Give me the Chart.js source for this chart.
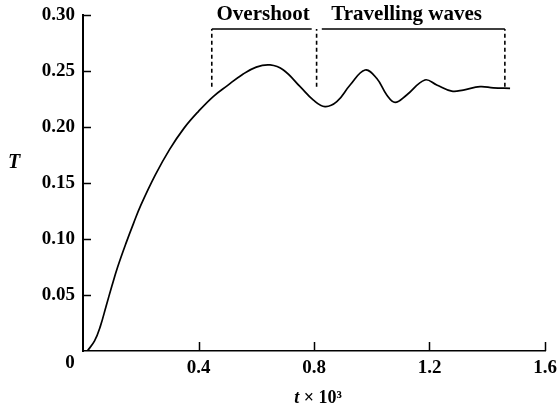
<!DOCTYPE html>
<html>
<head>
<meta charset="utf-8">
<script src="https://cdn.jsdelivr.net/npm/chart.js@4"></script>
<style>
  html, body { margin: 0; padding: 0; background: #fff; }
</style>
</head>
<body>
<canvas id="tempChart" width="557" height="415"></canvas>
<script>
// Temperature response T against time (t x 10^3)
const timeValues = [0.015, 0.04, 0.06, 0.08, 0.10, 0.12, 0.15, 0.175, 0.20, 0.25, 0.30, 0.35,
    0.40, 0.45, 0.50, 0.55, 0.60, 0.648, 0.694, 0.752, 0.798, 0.838, 0.879, 0.925,
    0.977, 1.017, 1.052, 1.081, 1.121, 1.184, 1.225, 1.277, 1.317, 1.375, 1.421, 1.479];
const tempValues = [0.000, 0.009, 0.022, 0.040, 0.058, 0.075, 0.097, 0.114, 0.130, 0.157, 0.180, 0.199,
    0.214, 0.227, 0.237, 0.2465, 0.2535, 0.2554, 0.2509, 0.236, 0.224, 0.2182, 0.2226, 0.2375,
    0.2509, 0.2435, 0.2286, 0.222, 0.2286, 0.242, 0.2375, 0.232, 0.233, 0.236, 0.235, 0.2345];

// Brackets marking the two regimes
const bracketNames = ['Overshoot', 'Travelling waves'];
const bracketStart = [0.446, 0.827];
const bracketEnd = [0.792, 1.461];
const bracketLevel = 0.2875;
const labelCentres = [0.624, 1.121];
const labelLevel = 0.2955;
const dividerTimes = [0.446, 0.809, 1.461];
const dividerBottom = 0.236;

const xTicks = [0, 0.4, 0.8, 1.2, 1.6];
const yTicks = [0, 0.05, 0.10, 0.15, 0.20, 0.25, 0.30];

const serif = "'Liberation Serif', 'Times New Roman', serif";

const curve = timeValues.map((t, i) => ({ x: t, y: tempValues[i] }));

const bracketLines = [];
bracketStart.forEach((s, i) => {
    bracketLines.push({ x: s, y: bracketLevel }, { x: bracketEnd[i], y: bracketLevel }, { x: bracketEnd[i], y: null });
});

const dividers = [];
dividerTimes.forEach(t => {
    dividers.push({ x: t, y: dividerBottom }, { x: t, y: bracketLevel }, { x: t, y: null });
});

// no extra room for overhanging tick labels
function fixSize(scale, prop, size) {
    scale[prop] = size;
    scale.paddingTop = 0;
    scale.paddingBottom = 0;
    scale.paddingLeft = 0;
    scale.paddingRight = 0;
}

// Inward ticks, corner zero, axis titles and bracket captions
const extras = {
    id: 'extras',
    afterDraw(chart) {
        const ctx = chart.ctx;
        const xs = chart.scales.x;
        const ys = chart.scales.y;
        ctx.save();
        ctx.strokeStyle = '#000';
        ctx.lineWidth = 1.5;
        ctx.beginPath();
        yTicks.slice(1).forEach(v => {
            const py = Math.round(ys.getPixelForValue(v)) + 0.5;
            ctx.moveTo(xs.left, py);
            ctx.lineTo(xs.left + 8, py);
        });
        xTicks.slice(1).forEach(v => {
            const px = Math.round(xs.getPixelForValue(v)) + 0.5;
            ctx.moveTo(px, ys.bottom);
            ctx.lineTo(px, ys.bottom - 9);
        });
        ctx.stroke();

        ctx.fillStyle = '#000';
        ctx.textBaseline = 'alphabetic';
        ctx.textAlign = 'center';
        ctx.font = 'bold 19px ' + serif;
        ctx.fillText('0', xs.left - 13, ys.bottom + 17);

        ctx.font = 'italic bold 20px ' + serif;
        ctx.fillText('T', 14, 168);

        // x axis title: italic t, then the rest upright
        ctx.textAlign = 'left';
        ctx.font = 'italic bold 18px ' + serif;
        const tw = ctx.measureText('t').width;
        ctx.font = 'bold 18px ' + serif;
        const rest = ' \u00d7 10\u00b3';
        const rw = ctx.measureText(rest).width;
        const cx = (xs.left + xs.right) / 2 + 4;
        const startX = cx - (tw + rw) / 2;
        ctx.font = 'italic bold 18px ' + serif;
        ctx.fillText('t', startX, 403);
        ctx.font = 'bold 18px ' + serif;
        ctx.fillText(rest, startX + tw, 403);

        ctx.textAlign = 'center';
        ctx.font = 'bold 21px ' + serif;
        bracketNames.forEach((name, i) => {
            ctx.fillText(name, xs.getPixelForValue(labelCentres[i]), ys.getPixelForValue(labelLevel));
        });
        ctx.restore();
    }
};

new Chart(document.getElementById('tempChart'), {
    type: 'line',
    data: {
        datasets: [
            {
                data: curve,
                borderColor: '#000',
                borderWidth: 1.7,
                pointRadius: 0,
                tension: 0.4,
                fill: false
            },
            {
                data: bracketLines,
                borderColor: '#000',
                borderWidth: 1.6,
                pointRadius: 0,
                spanGaps: false,
                fill: false
            },
            {
                data: dividers,
                borderColor: '#000',
                borderWidth: 1.6,
                borderDash: [4, 3],
                pointRadius: 0,
                spanGaps: false,
                fill: false
            }
        ]
    },
    options: {
        responsive: false,
        animation: false,
        layout: { padding: { top: 15, right: 12, left: 0, bottom: 0 } },
        plugins: {
            legend: { display: false },
            tooltip: { enabled: false }
        },
        scales: {
            x: {
                type: 'linear',
                min: 0,
                max: 1.6,
                afterFit: scale => fixSize(scale, 'height', 64),
                afterBuildTicks: scale => { scale.ticks = xTicks.map(v => ({ value: v })); },
                grid: { display: false, drawTicks: false },
                border: { display: true, color: '#000', width: 1.5 },
                ticks: {
                    padding: 6,
                    color: '#000',
                    font: { family: serif, size: 19, weight: 'bold' },
                    maxRotation: 0,
                    callback: v => (v === 0 ? '' : v.toFixed(1))
                }
            },
            y: {
                type: 'linear',
                min: 0,
                max: 0.3,
                afterFit: scale => fixSize(scale, 'width', 83),
                afterBuildTicks: scale => { scale.ticks = yTicks.map(v => ({ value: v })); },
                grid: { display: false, drawTicks: false },
                border: { display: true, color: '#000', width: 2 },
                ticks: {
                    padding: 8,
                    color: '#000',
                    font: { family: serif, size: 19, weight: 'bold' },
                    callback: v => (v === 0 ? '' : v.toFixed(2))
                }
            }
        }
    },
    plugins: [extras]
});
</script>
</body>
</html>
